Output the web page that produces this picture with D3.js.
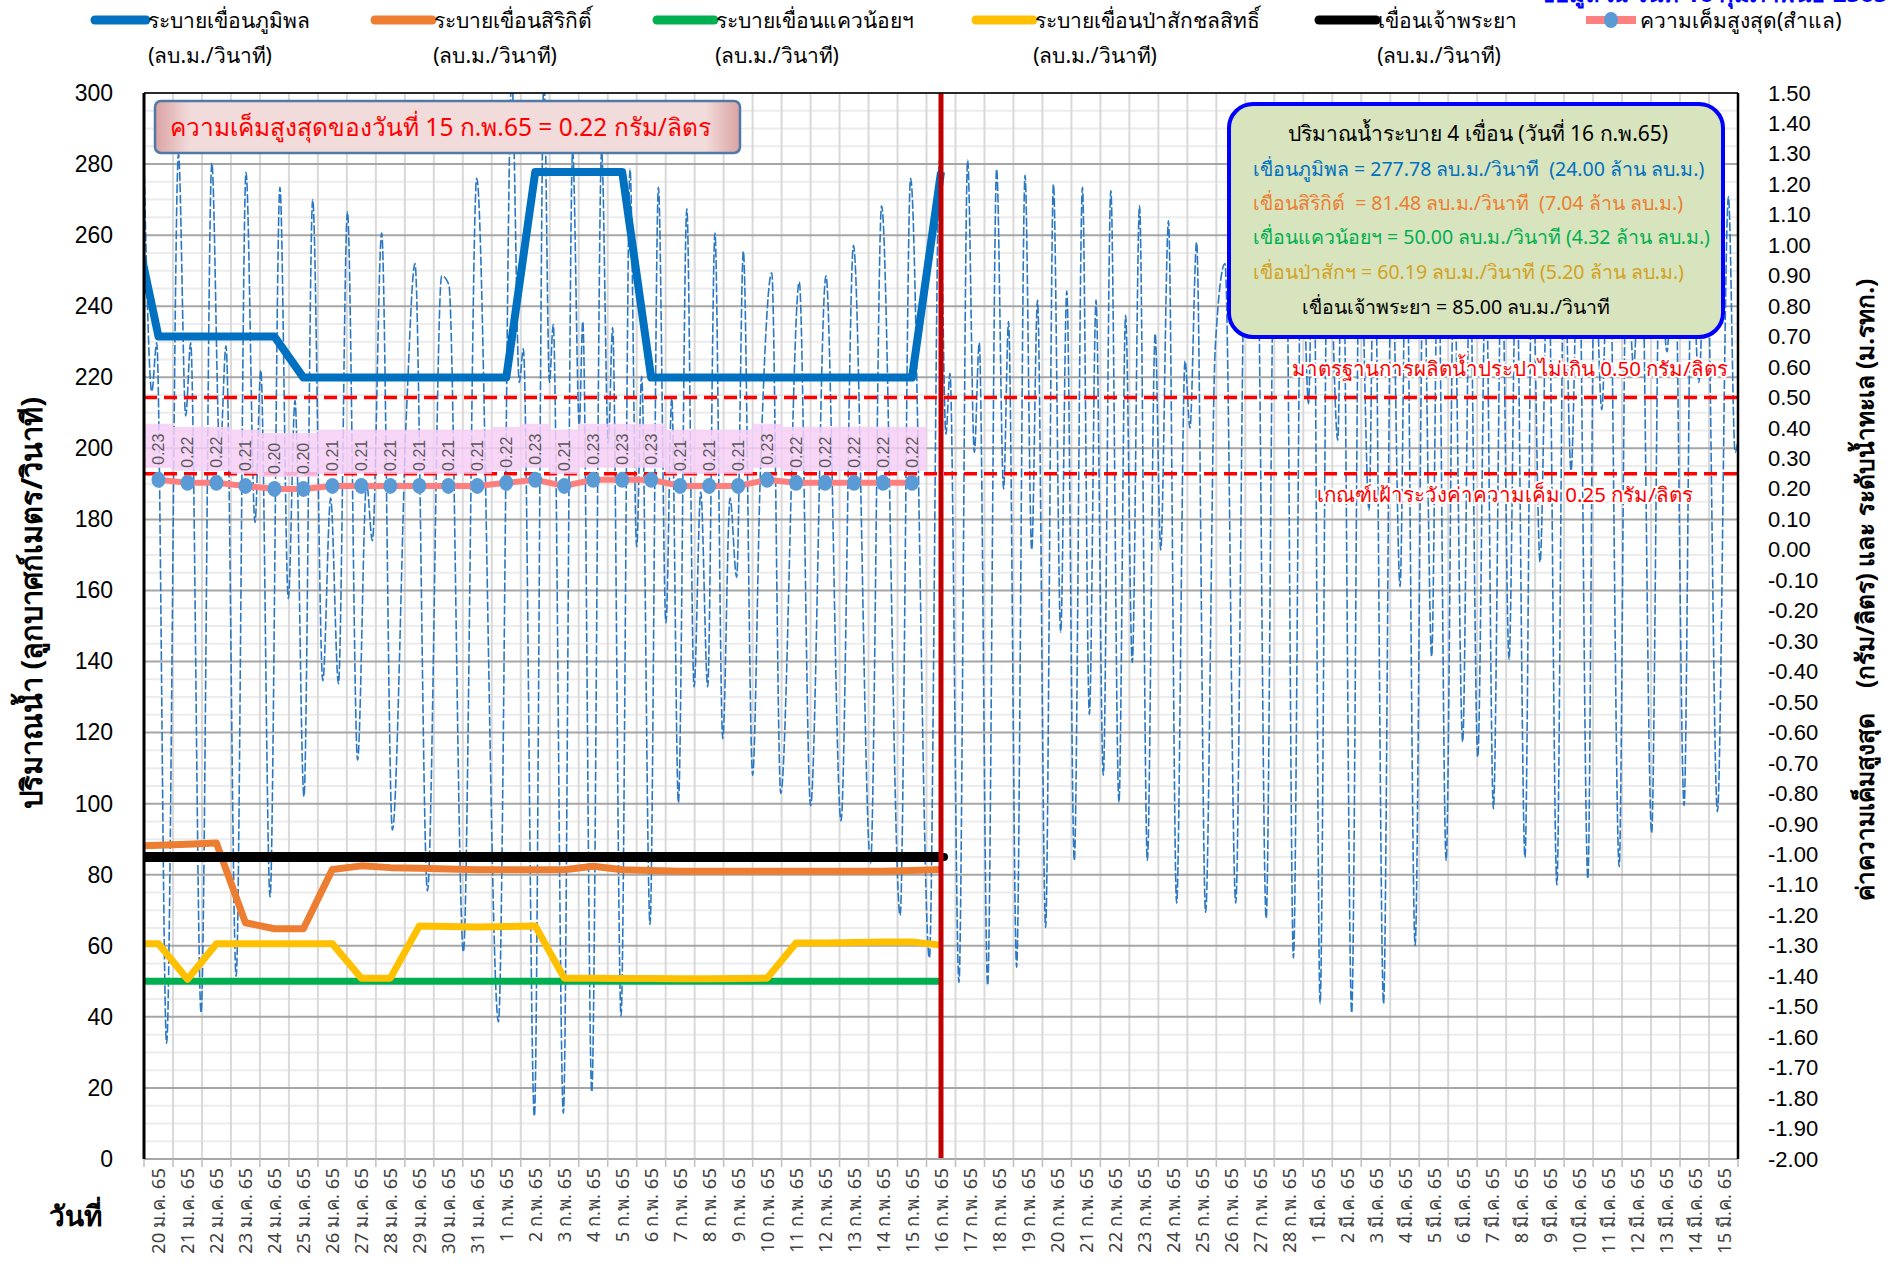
<!DOCTYPE html>
<html>
<head>
<meta charset="utf-8">
<script src="https://cdn.jsdelivr.net/npm/d3@7"></script>
<style>
  body { margin: 0; background: #fff; }
  svg { display: block; }
</style>
</head>
<body>
<script>
// ---------- data ----------
// category axis: one slot per day, 20 ม.ค. 65 .. 15 มี.ค. 65
var dayLabels = [
  "20 ม.ค. 65","21 ม.ค. 65","22 ม.ค. 65","23 ม.ค. 65","24 ม.ค. 65","25 ม.ค. 65",
  "26 ม.ค. 65","27 ม.ค. 65","28 ม.ค. 65","29 ม.ค. 65","30 ม.ค. 65","31 ม.ค. 65",
  "1 ก.พ. 65","2 ก.พ. 65","3 ก.พ. 65","4 ก.พ. 65","5 ก.พ. 65","6 ก.พ. 65","7 ก.พ. 65",
  "8 ก.พ. 65","9 ก.พ. 65","10 ก.พ. 65","11 ก.พ. 65","12 ก.พ. 65","13 ก.พ. 65","14 ก.พ. 65",
  "15 ก.พ. 65","16 ก.พ. 65","17 ก.พ. 65","18 ก.พ. 65","19 ก.พ. 65","20 ก.พ. 65","21 ก.พ. 65",
  "22 ก.พ. 65","23 ก.พ. 65","24 ก.พ. 65","25 ก.พ. 65","26 ก.พ. 65","27 ก.พ. 65","28 ก.พ. 65",
  "1 มี.ค. 65","2 มี.ค. 65","3 มี.ค. 65","4 มี.ค. 65","5 มี.ค. 65","6 มี.ค. 65","7 มี.ค. 65",
  "8 มี.ค. 65","9 มี.ค. 65","10 มี.ค. 65","11 มี.ค. 65","12 มี.ค. 65","13 มี.ค. 65","14 มี.ค. 65",
  "15 มี.ค. 65"
];

// dam releases (m3/s), first value is 19 ม.ค. (just left of the axis), last is 16 ก.พ.
var releaseStart = -1;
var bhumibol = [270, 231.48, 231.48, 231.48, 231.48, 231.48,
  219.91, 219.91, 219.91, 219.91, 219.91, 219.91, 219.91, 219.91,
  277.78, 277.78, 277.78, 277.78,
  219.91, 219.91, 219.91, 219.91, 219.91, 219.91, 219.91, 219.91, 219.91, 219.91,
  277.78];
var sirikit = [88.0, 88.3, 88.6, 88.9, 66.5, 64.8, 64.8, 81.5, 82.5, 82.0, 81.8, 81.6,
  81.4, 81.4, 81.4, 81.4, 82.4, 81.4, 81.2, 81.0, 81.0, 81.0, 81.0, 81.0, 81.0, 81.0,
  81.0, 81.2, 81.48];
var kwaeNoi = [50, 50, 50, 50, 50, 50, 50, 50, 50, 50, 50, 50, 50, 50, 50, 50, 50, 50, 50,
  50, 50, 50, 50, 50, 50, 50, 50, 50, 50];
var pasak = [60.6, 60.6, 50.6, 60.6, 60.6, 60.6, 60.6, 60.6, 50.9, 50.9, 65.6, 65.4, 65.3,
  65.4, 65.6, 50.9, 50.9, 50.8, 50.8, 50.7, 50.7, 50.8, 50.9, 60.8, 60.8, 60.9, 61.1, 61.1,
  60.19];
var chaoPhraya = [85, 85, 85, 85, 85, 85, 85, 85, 85, 85, 85, 85, 85, 85, 85, 85, 85, 85,
  85, 85, 85, 85, 85, 85, 85, 85, 85, 85, 85];

// max salinity at Samlae (g/l), 20 ม.ค. .. 15 ก.พ.
var salinity = [0.23, 0.22, 0.22, 0.21, 0.20, 0.20, 0.21, 0.21, 0.21, 0.21, 0.21, 0.21,
  0.22, 0.23, 0.21, 0.23, 0.23, 0.23, 0.21, 0.21, 0.21, 0.23, 0.22, 0.22, 0.22, 0.22, 0.22];

// sea level (m MSL): turning points, time in days from 20 ม.ค. 00:00
var tideDay = [0.00, 0.27, 0.44, 0.78, 1.19, 1.44, 1.61, 1.97, 2.34, 2.62, 2.83, 3.18,
  3.52, 3.83, 4.03, 4.35, 4.69, 4.98, 5.21, 5.52, 5.82, 6.17, 6.44, 6.71, 7.02, 7.37,
  7.68, 7.88, 8.20, 8.57, 9.06, 9.35, 9.78, 10.27, 10.52, 11.02, 11.48, 12.23, 12.69,
  12.95, 13.09, 13.47, 13.80, 13.99, 14.12, 14.47, 14.79, 15.02, 15.14, 15.45, 15.79,
  16.02, 16.17, 16.46, 16.77, 17.00, 17.17, 17.46, 17.75, 18.01, 18.21, 18.44, 18.73,
  18.98, 19.21, 19.45, 19.70, 19.97, 20.22, 20.45, 20.68, 21.00, 21.26, 21.66, 21.97,
  22.61, 23.00, 23.53, 24.05, 24.48, 25.07, 25.45, 26.09, 26.45, 27.10, 27.45, 27.67,
  27.81, 28.12, 28.42, 28.65, 28.82, 29.11, 29.42, 29.66, 29.83, 30.11, 30.40, 30.63,
  30.83, 31.11, 31.38, 31.63, 31.84, 32.10, 32.38, 32.62, 32.85, 33.10, 33.36, 33.64,
  33.87, 34.10, 34.35, 34.62, 34.89, 35.08, 35.35, 35.63, 35.92, 36.09, 36.32, 36.63,
  36.96, 37.30, 37.67, 38.00, 38.20, 38.40, 38.72, 39.00, 39.20, 39.40, 39.66, 39.94,
  40.18, 40.35, 40.58, 40.85, 41.19, 41.35, 41.67, 41.95, 42.27, 42.45, 42.77, 43.05,
  43.34, 43.55, 43.86, 44.15, 44.43, 44.65, 44.93, 45.20, 45.50, 45.75, 46.02, 46.30,
  46.56, 46.85, 47.10, 47.35, 47.65, 47.90, 48.17, 48.45, 48.75, 49.00, 49.24, 49.50,
  49.82, 50.05, 50.30, 50.55, 50.90, 51.15, 51.40, 51.65, 52.02, 52.30, 52.55, 52.80,
  53.14, 53.40, 53.65, 53.90, 54.29, 54.67, 54.90, 55.00];
var tideLevel = [1.27, 0.52, 0.68, -1.62, 1.30, 0.44, 0.68, -1.52, 1.27, 0.30, 0.67, -1.40,
  1.24, 0.09, 0.59, -1.14, 1.19, -0.16, 0.49, -0.81, 1.15, -0.43, 0.17, -0.44, 1.11, -0.69,
  0.22, 0.03, 1.04, -0.92, 0.46, 0.94, -1.12, 0.90, 0.87, -1.32, 1.22, -1.55, 1.55,
  0.55, 0.66, -1.86, 1.55, 0.55, 0.74, -1.85, 1.31, 0.41, 0.75, -1.78, 1.31,
  0.35, 0.73, -1.53, 1.25, 0.01, 0.57, -1.23, 1.19, -0.24, 0.50, -0.83, 1.12,
  -0.45, 0.19, -0.45, 1.04, -0.62, 0.17, -0.09, 0.98, -0.74, 0.23, 0.91, -0.80,
  0.88, -0.84, 0.90, -0.89, 1.00, -1.03, 1.13, -1.20, 1.22, -1.34, 1.28, 0.38,
  0.58, -1.42, 1.28, 0.32, 0.68, -1.43, 1.25, 0.20, 0.75, -1.37, 1.23, 0.00,
  0.82, -1.24, 1.20, -0.27, 0.85, -1.02, 1.19, -0.54, 0.82, -0.74, 1.18, -0.83,
  0.77, -0.37, 1.13, -1.02, 0.71, 0.00, 1.08, -1.16, 0.62, 0.40, 1.01, -1.19,
  0.66, 0.94, -1.16, 1.05, 0.85, 1.10, -1.21, 1.05, 0.75, 1.15, -1.34, 1.10,
  0.48, 1.20, -1.49, 1.15, 0.36, 1.20, -1.52, 1.10, 0.13, 1.15, -1.49, 1.05,
  -0.12, 1.10, -1.30, 1.00, -0.35, 1.05, -1.02, 0.95, -0.63, 0.95, -0.68, 0.95,
  -0.85, 1.00, -0.36, 1.00, -1.01, 1.00, -0.04, 1.05, -1.10, 1.00, 0.26, 1.10,
  -1.08, 1.00, 0.46, 1.15, -1.04, 1.00, 0.60, 1.15, -0.93, 1.00, 0.65, 1.15,
  -0.84, 1.00, 0.55, 1.15, -0.86, 1.16, 0.32, 0.36];

// right-axis tick values (g/l and m MSL)
var rightTicks = d3.range(-20, 16).map(function(k){ return k / 10; });
var leftTicks = d3.range(0, 301, 20);

// ---------- layout ----------
var W = 1903, H = 1268;
var plotL = 144, plotR = 1738, plotT = 93, plotB = 1159;
var thaiFont = "'Noto Sans', 'DejaVu Sans', sans-serif";

var svg = d3.select('body').append('svg')
  .attr('width', W).attr('height', H)
  .style('font-family', thaiFont);

svg.append('rect').attr('width', W).attr('height', H).attr('fill', '#fff');

var x = d3.scaleLinear().domain([0, dayLabels.length]).range([plotL, plotR]);
var yL = d3.scaleLinear().domain([0, 300]).range([plotB, plotT]);
var yR = d3.scaleLinear().domain([-2, 1.5]).range([plotB, plotT]);

svg.append('clipPath').attr('id', 'plotClip')
  .append('rect').attr('x', plotL).attr('y', plotT)
  .attr('width', plotR - plotL).attr('height', plotB - plotT);

// ---------- grid ----------
var grid = svg.append('g');
grid.selectAll('.minor').data(d3.range(0, 301, 5).filter(function(v){ return v % 20 !== 0; }))
  .enter().append('line')
  .attr('x1', plotL).attr('x2', plotR)
  .attr('y1', function(d){ return yL(d); }).attr('y2', function(d){ return yL(d); })
  .attr('stroke', '#ececec').attr('stroke-width', 2);
grid.selectAll('.vert').data(d3.range(1, dayLabels.length))
  .enter().append('line')
  .attr('x1', function(d){ return x(d); }).attr('x2', function(d){ return x(d); })
  .attr('y1', plotT).attr('y2', plotB)
  .attr('stroke', '#d9d9d9').attr('stroke-width', 2);
grid.selectAll('.major').data(leftTicks.slice(1))
  .enter().append('line')
  .attr('x1', plotL).attr('x2', plotR)
  .attr('y1', function(d){ return yL(d); }).attr('y2', function(d){ return yL(d); })
  .attr('stroke', '#a6a6a6').attr('stroke-width', 2);

var plot = svg.append('g').attr('clip-path', 'url(#plotClip)');

// ---------- sea level (thin dashed blue) ----------
var tide = tideDay.map(function(t, i){ return { t: t, v: tideLevel[i] }; });
plot.append('path')
  .datum(tide)
  .attr('fill', 'none')
  .attr('stroke', '#2a78c4')
  .attr('stroke-width', 1.6)
  .attr('stroke-dasharray', '9,2.5')
  .attr('d', d3.line().x(function(d){ return x(d.t); }).y(function(d){ return yR(d.v); })
    .curve(d3.curveMonotoneX));

// ---------- salinity thresholds ----------
[0.5, 0.25].forEach(function(v){
  plot.append('line')
    .attr('x1', plotL).attr('x2', plotR)
    .attr('y1', yR(v)).attr('y2', yR(v))
    .attr('stroke', '#ff0000').attr('stroke-width', 3.5)
    .attr('stroke-dasharray', '13,7');
});

// ---------- salinity label backgrounds ----------
var salPts = salinity.map(function(v, i){ return { cx: x(i + 0.5), cy: yR(v), v: v }; });
plot.selectAll('.labBg').data(salPts).enter().append('rect')
  .attr('x', function(d){ return d.cx - 14.5; })
  .attr('width', 29)
  .attr('y', function(d){ return d.cy - 56; })
  .attr('height', 44)
  .attr('fill', '#f7cff7').attr('opacity', 0.85);

// ---------- release lines ----------
function relLine(arr){
  return arr.map(function(v, i){ return { t: releaseStart + i + 0.5, v: v }; });
}
var relGen = d3.line().x(function(d){ return x(d.t); }).y(function(d){ return yL(d.v); });
var series = [
  { data: bhumibol, color: '#0070c0', w: 8 },
  { data: sirikit, color: '#ed7d31', w: 7 },
  { data: kwaeNoi, color: '#00b050', w: 7 },
  { data: pasak, color: '#ffc000', w: 7 },
  { data: chaoPhraya, color: '#000000', w: 10 }
];
series.forEach(function(s){
  plot.append('path').datum(relLine(s.data))
    .attr('fill', 'none').attr('stroke', s.color).attr('stroke-width', s.w)
    .attr('stroke-linejoin', 'round')
    .attr('d', relGen);
});
var lastCP = chaoPhraya.length - 1;
svg.append('circle')
  .attr('cx', x(releaseStart + lastCP + 0.5) + 3).attr('cy', yL(chaoPhraya[lastCP]))
  .attr('r', 4).attr('fill', '#000');

// ---------- salinity line, markers, labels ----------
plot.append('path').datum(salPts)
  .attr('fill', 'none').attr('stroke', '#ff7f7f').attr('stroke-width', 6)
  .attr('d', d3.line().x(function(d){ return d.cx; }).y(function(d){ return d.cy; }));
plot.selectAll('.salDot').data(salPts).enter().append('ellipse')
  .attr('cx', function(d){ return d.cx; }).attr('cy', function(d){ return d.cy; })
  .attr('rx', 7).attr('ry', 8).attr('fill', '#5b9bd5');
plot.selectAll('.salLab').data(salPts).enter().append('text')
  .attr('transform', function(d){ return 'translate(' + (d.cx + 6) + ',' + (d.cy - 15) + ') rotate(-90)'; })
  .attr('font-family', "'Liberation Sans', Arial, sans-serif")
  .attr('font-size', 16).attr('fill', '#595959')
  .text(function(d){ return d.v.toFixed(2); });

// ---------- 16 ก.พ. marker line ----------
svg.append('line')
  .attr('x1', x(27.5)).attr('x2', x(27.5))
  .attr('y1', plotT).attr('y2', plotB)
  .attr('stroke', '#c00000').attr('stroke-width', 5);

// ---------- axes / frame ----------
svg.append('line').attr('x1', plotL).attr('x2', plotR).attr('y1', plotT).attr('y2', plotT)
  .attr('stroke', '#000').attr('stroke-width', 1.5);
svg.append('line').attr('x1', plotL).attr('x2', plotR).attr('y1', plotB).attr('y2', plotB)
  .attr('stroke', '#a6a6a6').attr('stroke-width', 2);
svg.append('line').attr('x1', plotL).attr('x2', plotL).attr('y1', plotT).attr('y2', plotB)
  .attr('stroke', '#000').attr('stroke-width', 3);
svg.append('line').attr('x1', plotR).attr('x2', plotR).attr('y1', plotT).attr('y2', plotB)
  .attr('stroke', '#000').attr('stroke-width', 2.5);

var axL = svg.append('g').attr('transform', 'translate(' + plotL + ',0)')
  .call(d3.axisLeft(yL).tickValues(leftTicks).tickSize(0).tickPadding(31));
axL.select('.domain').remove();
axL.selectAll('text').attr('font-family', "'Liberation Sans', Arial, sans-serif")
  .attr('font-size', 23).attr('fill', '#000');

var axR = svg.append('g').attr('transform', 'translate(' + plotR + ',0)')
  .call(d3.axisRight(yR).tickValues(rightTicks).tickSize(0).tickPadding(30)
    .tickFormat(function(d){ return d.toFixed(2); }));
axR.select('.domain').remove();
axR.selectAll('text').attr('font-family', "'Liberation Sans', Arial, sans-serif")
  .attr('font-size', 22).attr('fill', '#000');

// bottom category axis: ticks on day boundaries, labels at centres
var axB = svg.append('g').attr('transform', 'translate(0,' + plotB + ')');
axB.selectAll('.tk').data(d3.range(0, dayLabels.length + 1)).enter().append('line')
  .attr('x1', function(d){ return x(d); }).attr('x2', function(d){ return x(d); })
  .attr('y1', 0).attr('y2', 8).attr('stroke', '#bfbfbf').attr('stroke-width', 1.5);
axB.selectAll('.lb').data(dayLabels).enter().append('text')
  .attr('transform', function(d, i){ return 'translate(' + (x(i + 0.5) + 7) + ',9) rotate(-90)'; })
  .attr('text-anchor', 'end')
  .attr('font-size', 18.5).attr('fill', '#404040')
  .text(function(d){ return d; });

// ---------- axis titles ----------
svg.append('text')
  .attr('transform', 'translate(42,603) rotate(-90)')
  .attr('text-anchor', 'middle').attr('font-size', 29).attr('font-weight', 'bold')
  .text('ปริมาณน้ำ (ลูกบาศก์เมตร/วินาที)');
svg.append('text')
  .attr('x', 75).attr('y', 1226).attr('text-anchor', 'middle')
  .attr('font-size', 28).attr('font-weight', 'bold')
  .text('วันที่');
svg.append('text')
  .attr('transform', 'translate(1874,590) rotate(-90)')
  .attr('text-anchor', 'middle').attr('font-size', 24.5).attr('font-weight', 'bold')
  .style('white-space', 'pre')
  .text('ค่าความเค็มสูงสุด    (กรัม/ลิตร) และ ระดับน้ำทะเล (ม.รทก.)');

// ---------- threshold captions ----------
svg.append('text')
  .attr('x', 1728).attr('y', 376).attr('text-anchor', 'end')
  .attr('font-size', 20.5).attr('fill', '#ff0000')
  .attr('stroke', '#fff').attr('stroke-width', 4).attr('paint-order', 'stroke')
  .text('มาตรฐานการผลิตน้ำประปาไม่เกิน 0.50 กรัม/ลิตร');
svg.append('text')
  .attr('x', 1693).attr('y', 502).attr('text-anchor', 'end')
  .attr('font-size', 20.5).attr('fill', '#ff0000')
  .attr('stroke', '#fff').attr('stroke-width', 4).attr('paint-order', 'stroke')
  .text('เกณฑ์เฝ้าระวังค่าความเค็ม 0.25 กรัม/ลิตร');

// ---------- max salinity box ----------
var defs = svg.append('defs');
var g1 = defs.append('linearGradient').attr('id', 'pinkGrad');
g1.append('stop').attr('offset', '0%').attr('stop-color', '#d9a3a2');
g1.append('stop').attr('offset', '6%').attr('stop-color', '#f2dcdb');
g1.append('stop').attr('offset', '94%').attr('stop-color', '#f2dcdb');
g1.append('stop').attr('offset', '100%').attr('stop-color', '#d9a3a2');
svg.append('rect')
  .attr('x', 155).attr('y', 101).attr('width', 585).attr('height', 52).attr('rx', 6)
  .attr('fill', 'url(#pinkGrad)').attr('stroke', '#4f7aa8').attr('stroke-width', 2.5);
svg.append('text')
  .attr('x', 170).attr('y', 136).attr('font-size', 24.5).attr('fill', '#ff0000')
  .text('ความเค็มสูงสุดของวันที่ 15 ก.พ.65 = 0.22 กรัม/ลิตร');

// ---------- release summary box ----------
svg.append('rect')
  .attr('x', 1229).attr('y', 104).attr('width', 494).attr('height', 233).attr('rx', 24)
  .attr('fill', '#d7e4bd').attr('stroke', '#0000ff').attr('stroke-width', 4);
var boxLines = [
  { t: 'ปริมาณน้ำระบาย 4 เขื่อน (วันที่ 16 ก.พ.65)', c: '#000', y: 141, x: 1478, a: 'middle', s: 21 },
  { t: 'เขื่อนภูมิพล = 277.78 ลบ.ม./วินาที  (24.00 ล้าน ลบ.ม.)', c: '#0070c0', y: 176, x: 1253, a: 'start', s: 19.5 },
  { t: 'เขื่อนสิริกิต์  = 81.48 ลบ.ม./วินาที  (7.04 ล้าน ลบ.ม.)', c: '#ed7d31', y: 210, x: 1253, a: 'start', s: 19.5 },
  { t: 'เขื่อนแควน้อยฯ = 50.00 ลบ.ม./วินาที (4.32 ล้าน ลบ.ม.)', c: '#00b050', y: 244, x: 1253, a: 'start', s: 19.5 },
  { t: 'เขื่อนป่าสักฯ = 60.19 ลบ.ม./วินาที (5.20 ล้าน ลบ.ม.)', c: '#d4a11e', y: 279, x: 1253, a: 'start', s: 19.5 },
  { t: 'เขื่อนเจ้าพระยา = 85.00 ลบ.ม./วินาที', c: '#000', y: 314, x: 1456, a: 'middle', s: 19.5 }
];
svg.selectAll('.boxText').data(boxLines).enter().append('text')
  .attr('x', function(d){ return d.x; }).attr('y', function(d){ return d.y; })
  .attr('text-anchor', function(d){ return d.a; })
  .attr('font-size', function(d){ return d.s; }).attr('fill', function(d){ return d.c; })
  .style('white-space', 'pre')
  .text(function(d){ return d.t; });

// ---------- legend ----------
var legend = [
  { name: 'ระบายเขื่อนภูมิพล', color: '#0070c0', x1: 95, x2: 146, unit: 210 },
  { name: 'ระบายเขื่อนสิริกิติ์', color: '#ed7d31', x1: 375, x2: 432, unit: 495 },
  { name: 'ระบายเขื่อนแควน้อยฯ', color: '#00b050', x1: 657, x2: 714, unit: 777 },
  { name: 'ระบายเขื่อนป่าสักชลสิทธิ์', color: '#ffc000', x1: 976, x2: 1033, unit: 1095 },
  { name: 'เขื่อนเจ้าพระยา', color: '#000000', x1: 1319, x2: 1376, unit: 1439 }
];
var lg = svg.append('g');
legend.forEach(function(d){
  lg.append('line').attr('x1', d.x1).attr('x2', d.x2).attr('y1', 20).attr('y2', 20)
    .attr('stroke', d.color).attr('stroke-width', 9).attr('stroke-linecap', 'round');
  lg.append('text').attr('x', d.x2 + 2).attr('y', 28).attr('font-size', 21).text(d.name);
  lg.append('text').attr('x', d.unit).attr('y', 63).attr('text-anchor', 'middle')
    .attr('font-size', 21).text('(ลบ.ม./วินาที)');
});
lg.append('line').attr('x1', 1586).attr('x2', 1636).attr('y1', 20).attr('y2', 20)
  .attr('stroke', '#ff8080').attr('stroke-width', 8);
lg.append('ellipse').attr('cx', 1611).attr('cy', 20).attr('rx', 7).attr('ry', 8).attr('fill', '#5b9bd5');
lg.append('text').attr('x', 1640).attr('y', 28).attr('font-size', 21).text('ความเค็มสูงสุด(สำแล)');

// heading that the reference shows cut by the top edge
svg.append('text')
  .attr('x', 1539).attr('y', 2).attr('font-size', 24).attr('font-weight', 'bold')
  .attr('fill', '#0000ff')
  .text('ข้อมูล ณ วันที่ 16 กุมภาพันธ์ 2565');
</script>
</body>
</html>
